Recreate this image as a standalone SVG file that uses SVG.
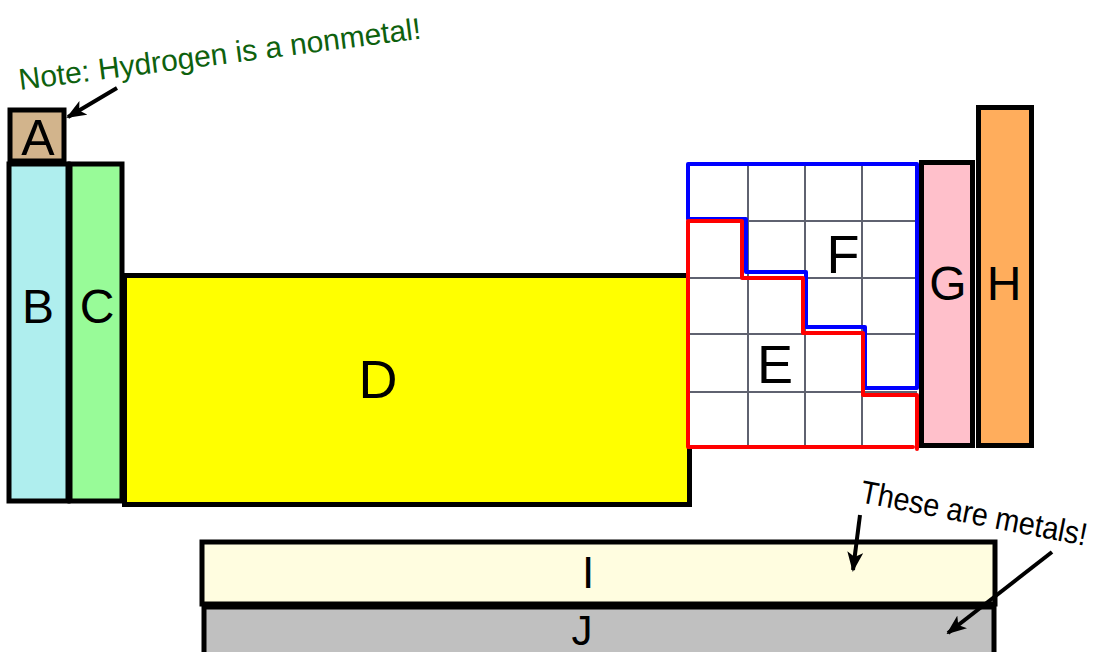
<svg xmlns="http://www.w3.org/2000/svg" width="1104" height="652" viewBox="0 0 1104 652">
  <defs>
    <marker id="ah" markerUnits="userSpaceOnUse" markerWidth="20" markerHeight="16" refX="18" refY="8" orient="auto">
      <path d="M0,0 L20,8 L0,16 L5,8 Z" fill="#000"/>
    </marker>
  </defs>
  <style>
    .box { stroke: #000; stroke-width: 5; }
    .lbl { font-family: "Liberation Sans", Arial, sans-serif; fill: #000; text-anchor: middle; }
    .grid { stroke: #5f6270; stroke-width: 2; fill: none; }
    .arrow { stroke: #000; stroke-width: 4; fill: none; marker-end: url(#ah); }
    .note { font-family: "Liberation Sans", Arial, sans-serif; }
  </style>
  <rect width="1104" height="652" fill="#fff"/>

  <g id="A">
    <rect class="box" x="10" y="110" width="54" height="51" fill="#d2b48c" stroke-width="4"/>
    <text class="lbl" x="38" y="155" font-size="50">A</text>
  </g>
  <g id="B">
    <rect class="box" x="9" y="164" width="59" height="337" fill="#afeeee" stroke-width="4"/>
    <text class="lbl" x="38" y="323" font-size="48">B</text>
  </g>
  <g id="C">
    <rect class="box" x="70" y="164" width="52" height="337" fill="#98fb98" stroke-width="4"/>
    <text class="lbl" x="97" y="323" font-size="48">C</text>
  </g>
  <g id="D">
    <rect class="box" x="124.5" y="275.5" width="565" height="229" fill="#ffff00"/>
    <text class="lbl" x="378" y="398" font-size="54">D</text>
  </g>

  <g id="grid">
    <rect x="688" y="164" width="229" height="284" fill="#fff"/>
    <path class="grid" d="M748,164 V448 M805,164 V448 M862,164 V448 M688,221 H917 M688,278 H917 M688,334 H917 M688,392 H917"/>
  </g>
  <g id="F">
    <path d="M688,219 V164 H917 V388 H865 V327 H806 V272 H746 V219 Z" fill="none" stroke="#0000ff" stroke-width="4" stroke-linejoin="round"/>
    <text class="lbl" x="843" y="273" font-size="54">F</text>
  </g>
  <g id="E">
    <path d="M688,221 H742 V278 H803 V333 H863 V395 H917 V449 M913,447 H688 V221" fill="none" stroke="#ff0000" stroke-width="4" stroke-linejoin="round" stroke-linecap="round"/>
    <text class="lbl" x="775" y="383" font-size="54">E</text>
  </g>

  <g id="G">
    <rect class="box" x="921.5" y="162.5" width="51" height="283" fill="#ffc0cb"/>
    <text class="lbl" x="948" y="300" font-size="48">G</text>
  </g>
  <g id="H">
    <rect class="box" x="978.5" y="107.5" width="53" height="338" fill="#ffad5c"/>
    <text class="lbl" x="1004" y="300" font-size="48">H</text>
  </g>

  <g id="I">
    <rect class="box" x="202" y="542" width="793" height="62" fill="#fffde0" stroke-width="6"/>
    <text class="lbl" x="588" y="588" font-size="44">I</text>
  </g>
  <g id="J">
    <rect class="box" x="204" y="607" width="790" height="60" fill="#c0c0c0"/>
    <text class="lbl" x="582" y="645" font-size="42">J</text>
  </g>

  <g id="notes">
    <text class="note" x="20" y="90" font-size="30" fill="#0e610e" transform="rotate(-7.3 20 90)">Note: Hydrogen is a nonmetal!</text>
    <text class="note" x="859" y="502" font-size="32" fill="#000" textLength="230" lengthAdjust="spacingAndGlyphs" transform="rotate(11 859 502)">These are metals!</text>
  </g>

  <g id="connectors">
    <line class="arrow" x1="117" y1="88" x2="68" y2="117"/>
    <line class="arrow" x1="860" y1="515" x2="853" y2="570"/>
    <line class="arrow" x1="1052" y1="552" x2="948" y2="633"/>
  </g>
</svg>
